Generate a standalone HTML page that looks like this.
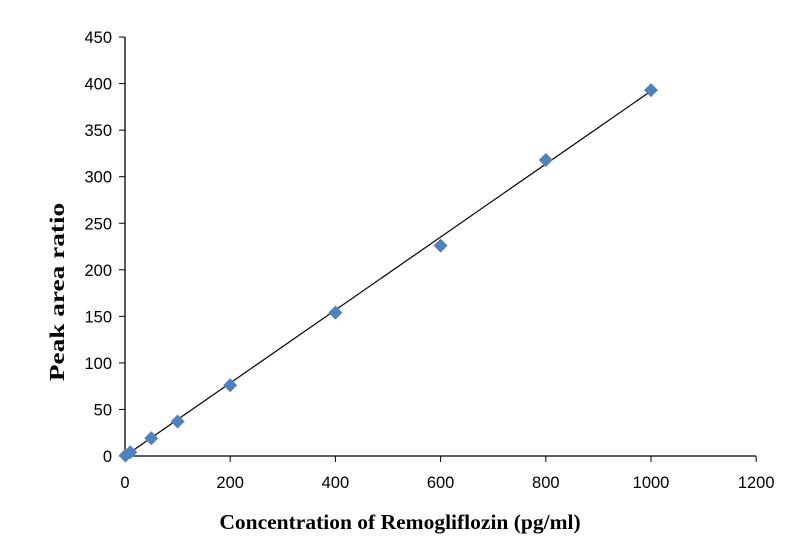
<!DOCTYPE html>
<html><head><meta charset="utf-8"><style>
body{margin:0;background:#fff}
svg text{font-family:"Liberation Sans",sans-serif}
</style></head><body>
<svg width="799" height="544" viewBox="0 0 799 544">
<g id="axes"></g>
<g id="marks"></g>
<text x="400" y="529" text-anchor="middle" style="font-family:'Liberation Serif',serif;font-weight:bold;font-size:21.5px">Concentration of Remogliflozin (pg/ml)</text>
<text transform="translate(64,292) rotate(-90) scale(1.3,1)" text-anchor="middle" style="font-family:'Liberation Serif',serif;font-weight:bold;font-size:21px">Peak area ratio</text>
</svg>
<script>
const xTicks=[0,200,400,600,800,1000,1200];
const yTicks=[0,50,100,150,200,250,300,350,400,450];
const concentrations=[1,10,50,100,200,400,600,800,1000];
const ratios=[0.5,4,19,37,76,154,226,318,393];
const fitSlope=0.392, fitIntercept=0;
const X=v=>125+v*0.526, Y=v=>456-v*0.931;
const ns="http://www.w3.org/2000/svg";
function mk(t,a,p){const e=document.createElementNS(ns,t);for(const k in a)e.setAttribute(k,a[k]);p.appendChild(e);return e;}
const ax=document.getElementById('axes'), mg=document.getElementById('marks');
let l=mk('line',{x1:125,y1:Y(450),x2:125,y2:456,stroke:'#000','stroke-width':1.3},ax);


l=mk('line',{x1:125,y1:456,x2:X(1200),y2:456,stroke:'#000','stroke-width':1.3},ax);


yTicks.forEach(v=>{mk('line',{x1:119,y1:Y(v),x2:125,y2:Y(v),stroke:'#000'},ax);
const t=mk('text',{x:112,y:Y(v)+6,'text-anchor':'end','font-size':16.5},ax);t.textContent=v;

});
xTicks.forEach(v=>{mk('line',{x1:X(v),y1:456,x2:X(v),y2:462,stroke:'#000'},ax);
const t=mk('text',{x:X(v),y:488,'text-anchor':'middle','font-size':16.5},ax);t.textContent=v;

});
l=mk('line',{x1:X(0),y1:Y(fitIntercept),x2:X(1000),y2:Y(fitIntercept+fitSlope*1000),stroke:'#000','stroke-width':1.2},mg);


concentrations.forEach((c,i)=>{const x=X(c),y=Y(ratios[i]);
const p=mk('polygon',{points:`${x},${y-7} ${x+7},${y} ${x},${y+7} ${x-7},${y}`,fill:'#4f81bd'},mg);

});
</script>
</body></html>
